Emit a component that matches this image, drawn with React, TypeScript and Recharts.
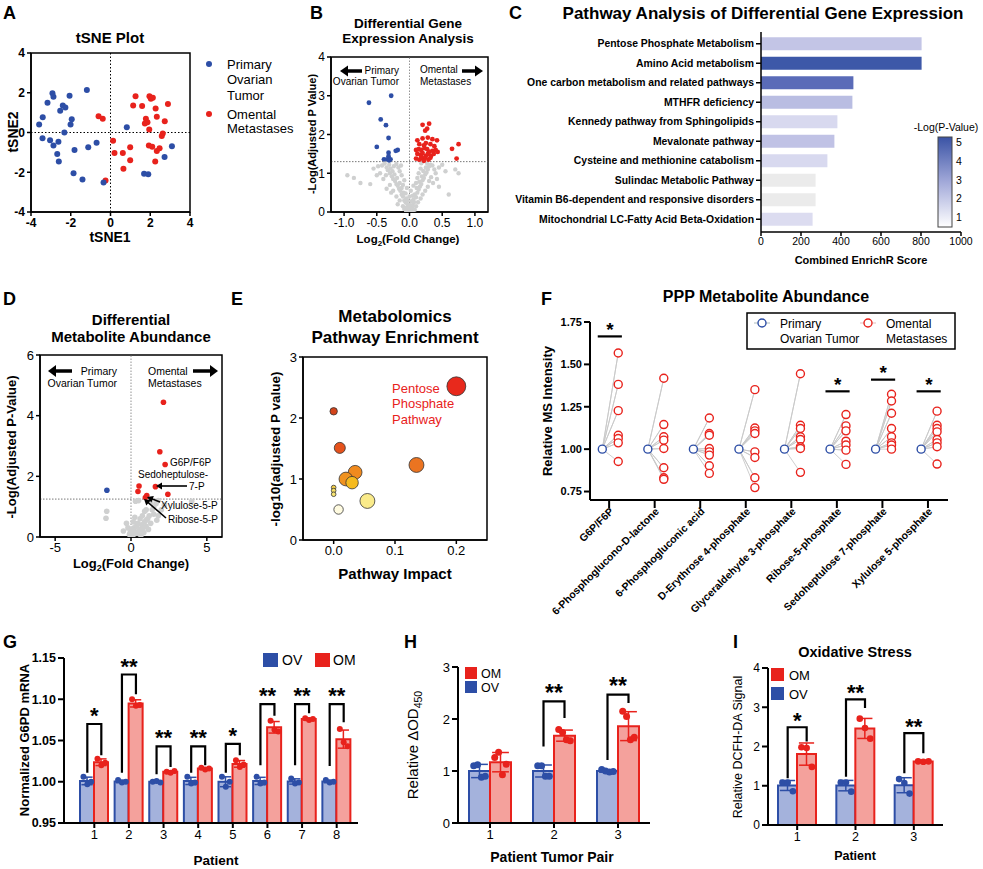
import React from 'react';
import {
  ScatterChart, Scatter, XAxis, YAxis, ZAxis, ReferenceLine, ReferenceArea,
  BarChart, Bar, Cell, ComposedChart, ErrorBar,
} from 'recharts';

const FONT = 'Arial, "Liberation Sans", Helvetica, sans-serif';
const BLUE = '#2d4ea6';
const RED = '#e8221c';
const GRAY = '#cfd0d0';
const BLUE_FILL = '#a4b2dc';
const RED_FILL = '#f4a19c';

// ---------- A: tSNE ----------
const tsneOvarian = [[-2.92,1.97],[-2.87,1.80],[-3.17,1.50],[-1.19,2.14],[-2.06,1.85],[-2.40,1.36],[-2.27,1.26],[-2.53,1.09],[-3.41,0.77],[-1.95,0.67],[-2.01,0.40],[-3.59,0.40],[-2.32,0.0],[-3.42,-0.29],[-3.04,-0.39],[-2.87,-0.66],[-2.62,-0.47],[-2.68,-1.08],[-2.60,-1.46],[-1.81,-0.88],[-1.12,-0.74],[-0.70,-0.51],[-1.86,-2.05],[-1.41,-2.36],[0.82,0.27],[3.09,-0.69],[2.72,-1.23],[1.69,-2.07],[1.90,-2.10]];
const tsneOmental = [[-0.60,0.82],[-0.39,0.69],[-0.25,-2.41],[0.13,-0.42],[0.20,-1.03],[0.62,-1.03],[0.65,-1.82],[0.99,-0.74],[0.99,-1.40],[1.26,1.82],[1.14,1.36],[1.59,1.33],[1.96,1.82],[2.03,1.70],[2.13,1.75],[2.27,1.21],[2.89,1.43],[1.78,0.69],[1.86,0.51],[1.73,0.45],[2.33,0.79],[2.73,0.57],[1.95,0.15],[2.63,-0.05],[2.58,-0.17],[1.93,-0.66],[2.10,-0.72],[2.33,-0.93],[2.47,-0.79],[2.25,-1.46]];
const tsneOvarianTop = [[-0.35,-2.51]];
const tsneTicks = [-4,-2,0,2,4];

// ---------- B: differential gene expression ----------
const degOvarian = [[-0.62,2.82],[-0.28,3.0],[-0.36,2.24],[-0.44,2.39],[-0.32,1.91],[-0.5,1.68],[-0.32,1.53],[-0.18,1.6],[-0.21,1.58],[-0.32,1.44],[-0.39,1.36],[-0.34,1.36],[-0.29,1.36],[-0.31,1.33]];
const degOmental = [[0.2,2.25],[0.3,2.28],[0.27,2.15],[0.24,2.1],[0.12,1.85],[0.2,1.9],[0.28,1.92],[0.35,1.88],[0.42,1.85],[0.15,1.75],[0.22,1.72],[0.25,1.78],[0.32,1.75],[0.38,1.7],[0.1,1.6],[0.14,1.62],[0.18,1.6],[0.23,1.65],[0.27,1.62],[0.3,1.55],[0.35,1.58],[0.4,1.6],[0.12,1.5],[0.17,1.48],[0.2,1.52],[0.25,1.45],[0.28,1.5],[0.33,1.45],[0.37,1.5],[0.43,1.55],[0.1,1.38],[0.15,1.35],[0.2,1.38],[0.24,1.4],[0.29,1.35],[0.32,1.4],[0.22,1.32],[0.18,1.42],[0.65,1.63],[0.75,1.75],[0.72,1.38]];
const degOther = [[-0.02,0.05],[-0.04,0.12],[-0.03,0.2],[-0.06,0.25],[-0.08,0.3],[-0.05,0.35],[-0.1,0.4],[-0.12,0.45],[-0.09,0.5],[-0.14,0.55],[-0.16,0.6],[-0.12,0.62],[-0.18,0.68],[-0.2,0.72],[-0.15,0.75],[-0.22,0.8],[-0.25,0.85],[-0.19,0.88],[-0.27,0.92],[-0.23,0.97],[-0.3,1.0],[-0.26,1.05],[-0.33,1.08],[-0.29,1.12],[-0.35,1.15],[-0.24,1.18],[-0.31,1.22],[-0.38,1.25],[-0.2,1.24],[-0.42,1.2],[-0.36,0.95],[-0.4,0.85],[-0.3,0.7],[-0.25,0.55],[-0.2,0.4],[-0.15,0.3],[-0.1,0.15],[-0.18,0.2],[-0.28,0.5],[-0.35,0.6],[-0.45,1.0],[-0.5,0.95],[-0.6,0.72],[-0.75,0.75],[-0.85,0.88],[-0.95,0.95],[-0.55,1.12],[-0.48,1.18],[0.02,0.05],[0.04,0.1],[0.05,0.18],[0.07,0.25],[0.06,0.32],[0.1,0.38],[0.08,0.45],[0.12,0.5],[0.14,0.58],[0.11,0.62],[0.16,0.66],[0.18,0.72],[0.15,0.78],[0.2,0.82],[0.22,0.88],[0.19,0.92],[0.24,0.97],[0.26,1.02],[0.21,1.06],[0.28,1.1],[0.25,1.15],[0.3,1.18],[0.32,1.22],[0.27,1.25],[0.35,1.2],[0.38,1.1],[0.4,1.0],[0.33,0.9],[0.3,0.8],[0.28,0.65],[0.24,0.55],[0.2,0.45],[0.17,0.35],[0.13,0.25],[0.1,0.15],[0.45,1.15],[0.5,1.22],[0.45,0.65],[0.6,0.45],[0.7,1.1],[0.75,1.0],[0.42,0.85],[0.36,0.75],[0.55,1.05],[0,0.02],[-0.01,0.08],[0.01,0.12],[0.0,0.18],[-0.05,0.02],[0.05,0.0],[-0.08,0.08],[0.08,0.06],[0.03,0.28],[-0.03,0.3],[0.0,0.4],[0.05,0.42],[-0.06,0.48],[0.02,0.55],[-0.04,0.62],[0.06,0.68],[-0.1,0.7],[0.1,0.75],[-0.08,0.82],[0.12,0.88],[-0.12,0.95],[0.14,1.0],[-0.15,1.05],[0.17,1.12],[-0.17,1.15],[0.18,1.26],[-0.13,1.2]];
const degXTicks = [-1,-0.5,0,0.5,1];
const degYTicks = [0,1,2,3,4];

// ---------- C: pathway analysis ----------
const pathways = ['Pentose Phosphate Metabolism','Amino Acid metabolism','One carbon metabolism and related pathways','MTHFR deficiency','Kennedy pathway from Sphingolipids','Mevalonate pathway','Cysteine and methionine catabolism','Sulindac Metabolic Pathway','Vitamin B6-dependent and responsive disorders','Mitochondrial LC-Fatty Acid Beta-Oxidation'];
const enrichScore = [803, 803, 462, 457, 382, 367, 332, 273, 273, 258];
const pathwayNegLogP = [2.0, 5.1, 4.3, 2.3, 1.4, 2.1, 1.4, 0.8, 0.8, 1.3];
const enrichTicks = [0,200,400,600,800,1000];
const colorbarTicks = [5,4,3,2,1];

// ---------- D: differential metabolites ----------
const metabOmental = [[2.14,4.44],[1.90,2.81],[2.25,2.39],[1.61,1.66],[0.53,1.68],[0.46,1.50],[2.43,1.41],[1.04,1.37],[0.95,1.30]];
const metabOvarian = [[-1.59,1.54]];
const metabOther = [[0,0.02],[0.1,0.05],[0.2,0.1],[-0.1,0.08],[0.3,0.15],[0.4,0.12],[0.5,0.2],[0.6,0.25],[0.2,0.3],[0.35,0.35],[0.7,0.4],[0.8,0.3],[0.9,0.5],[1.0,0.55],[1.1,0.6],[1.2,0.7],[1.3,0.45],[0.6,0.6],[0.75,0.7],[1.4,0.9],[1.5,1.0],[1.65,1.1],[1.8,1.2],[1.3,1.15],[0.5,1.2],[0.3,1.18],[1.0,0.9],[0.9,0.85],[-0.2,0.3],[-0.3,0.45],[0.15,0.5],[1.5,0.75],[1.7,0.55],[2.0,0.9],[-1.6,0.85],[-1.65,0.62],[4.0,1.18],[0.45,0.45],[0.25,0.65],[1.15,0.25],[0.85,0.15],[1.8,0.7],[2.2,1.05],[-0.5,0.2],[0.05,0.25],[-0.05,0.15],[0.65,0.05],[1.0,0.35]];

// ---------- E: metabolomics pathway enrichment ----------
const pathImpact = [0.2, 0, 0.01, 0.135, 0.035, 0.02, 0.03, 0.055, 0, 0, 0, 0.008];
const pathEnrichNegLogP = [2.52, 2.11, 1.51, 1.23, 1.11, 1.0, 0.94, 0.64, 0.86, 0.81, 0.75, 0.5];
const pathHits = [10, 1, 3, 6, 5, 5, 4, 6, 0, 0, 0, 2];

// ---------- F: PPP metabolites ----------
const pppMetabolites = ['G6P/F6P','6-Phosphoglucono-D-lactone','6-Phosphogluconic acid','D-Erythrose 4-phosphate','Glyceraldehyde 3-phosphate','Ribose-5-phosphate','Sedoheptulose 7-phosphate','Xylulose 5-phosphate'];
const pppOvarian = [1, 1, 1, 1, 1, 1, 1, 1];
const pppOmental = [
  [1.567,1.382,1.227,1.082,1.063,1.037,0.927],
  [1.418,1.145,1.073,1.053,1.004,0.890,0.831,0.822],
  [1.184,1.092,1.082,1.004,0.984,0.965,0.902,0.857],
  [1.351,1.125,1.108,1.092,0.984,0.951,0.831,0.773],
  [1.445,1.141,1.122,1.073,1.057,1.014,1.004,0.863],
  [1.204,1.137,1.108,1.047,1.024,0.994,0.910],
  [1.324,1.284,1.212,1.122,1.073,1.037,1.024,1.0],
  [1.224,1.141,1.122,1.102,1.057,1.037,1.014,0.912],
];
const pppSigBar = [1.665, null, null, null, null, 1.341, 1.41, 1.341];
const pppYTicks = [0.75,1.0,1.25,1.5,1.75];

// ---------- G: G6PD mRNA ----------
const g6pdPatients = ['1','2','3','4','5','6','7','8'];
const g6pdOV = [[1.006,0.997,1.0],[1.002,0.999,1.0],[1.0,1.001,0.999],[1.006,0.998,0.999],[1.006,0.994,1.0],[1.006,0.998,0.999],[1.004,0.998,0.999],[1.002,0.999,1.0]];
const g6pdOM = [[1.028,1.02,1.023],[1.1,1.092,1.093],[1.012,1.011,1.013],[1.017,1.015,1.016],[1.026,1.018,1.021],[1.074,1.063,1.061],[1.077,1.075,1.076],[1.064,1.048,1.043]];
const g6pdBracketTop = [1.07,1.13,1.043,1.043,1.046,1.094,1.094,1.094];
const g6pdBracketOV = [1.011,1.011,1.009,1.011,1.011,1.02,1.02,1.019];
const g6pdBracketOM = [1.032,1.106,1.018,1.02,1.032,1.08,1.083,1.072];
const g6pdSig = ['*','**','**','**','*','**','**','**'];
const g6pdTicks = [0.95,1.0,1.05,1.1,1.15];

// ---------- H: OD450 ----------
const odPairs = ['1','2','3'];
const odOV = [[1.10,1.12,0.88,0.90],[1.10,1.10,0.90,0.90],[1.03,1.00,0.98,0.99]];
const odOM = [[1.26,1.36,0.93,1.13],[1.80,1.74,1.60,1.58],[2.15,2.05,1.60,1.65]];
const odBracketTop = [null, 2.34, 2.47];
const odBracketOV = [null, 1.47, 1.21];
const odBracketOM = [null, 2.02, 2.31];
const odSig = ['', '**', '**'];
const odTicks = [0,1,2,3];

// ---------- I: DCFH-DA ----------
const dcfhPatients = ['1','2','3'];
const dcfhOV = [[1.08,1.08,0.86],[1.08,1.08,0.85],[1.17,1.07,0.80]];
const dcfhOM = [[1.98,1.96,1.48],[2.71,2.47,2.20],[1.62,1.61,1.62]];
const dcfhBracketTop = [2.49, 3.2, 2.34];
const dcfhBracketOV = [1.19, 1.23, 1.32];
const dcfhBracketOM = [2.13, 2.98, 1.83];
const dcfhSig = ['*','**','**'];
const dcfhTicks = [0,1,2,3,4];

// ---------- helpers ----------
const AX = { stroke: '#000', strokeWidth: 1.5 };
const AX2 = { stroke: '#000', strokeWidth: 2 };
const tk = (s: number, w: number = 400) => ({ fill: '#000', fontSize: s, fontWeight: w, fontFamily: FONT });
const pts = (a: number[][]) => a.map(([x, y]) => ({ x, y }));
const mean = (a: number[]) => a.reduce((s, v) => s + v, 0) / a.length;
const sd = (a: number[]) => { const m = mean(a); return Math.sqrt(a.reduce((s, v) => s + (v - m) ** 2, 0) / (a.length - 1)); };
const dot = (r: number, fill: string) => (p: any) => <circle cx={p.cx} cy={p.cy} r={r} fill={fill} />;
const ring = (r: number, stroke: string) => (p: any) => <circle cx={p.cx} cy={p.cy} r={r} fill="#fff" stroke={stroke} strokeWidth={1.4} />;
const none = () => <g />;
const starShape = (gap: number, fs: number) => (p: any) => (
  <text x={p.cx} y={p.cy - gap + fs * 0.5} textAnchor="middle" fontSize={fs} fontWeight={700} fontFamily={FONT} fill="#000">{p.payload.s}</text>
);

function interp(stops: [number, string][], v: number) {
  if (v <= stops[0][0]) return stops[0][1];
  const hex = (c: string) => [1, 3, 5].map(k => parseInt(c.slice(k, k + 2), 16));
  for (let i = 1; i < stops.length; i++) {
    if (v <= stops[i][0]) {
      const [a, ca] = stops[i - 1];
      const [b, cb] = stops[i];
      const t = (v - a) / (b - a);
      const A = hex(ca), B = hex(cb);
      return 'rgb(' + A.map((x, j) => Math.round(x + (B[j] - x) * t)).join(',') + ')';
    }
  }
  return stops[stops.length - 1][1];
}
const pathColor = (v: number) => interp([[0.8, '#ebebeb'], [1.3, '#dcdcf0'], [2.0, '#c3c5e6'], [2.3, '#b9bde2'], [4.3, '#5a6bb8'], [5.1, '#3d58a8']], v);
const heatColor = (v: number) => interp([[0.5, '#fffbe0'], [0.64, '#faeb8a'], [0.8, '#f7e26a'], [0.94, '#f5ba1e'], [1.0, '#f0921f'], [1.11, '#f08a1e'], [1.23, '#eb7421'], [1.5, '#e5521c'], [2.11, '#d3441a'], [2.52, '#e8291c']], v);

function Abs({ r, yw, xh, pad, children }: any) {
  const p = { l: 4, t: 12, r: 16, b: 6, ...(pad || {}) };
  const w = r.x1 - r.x0 + yw + p.l + p.r;
  const h = r.y1 - r.y0 + xh + p.t + p.b;
  return (
    <div style={{ position: 'absolute', left: r.x0 - yw - p.l, top: r.y0 - p.t, width: w, height: h }}>
      {children(w, h, { left: p.l, top: p.t, right: p.r, bottom: p.b })}
    </div>
  );
}

function T({ x, y, s = 12, w = 400, a = 'start', c = '#000', rot, children }: any) {
  return (
    <text x={x} y={y} fontSize={s} fontWeight={w} textAnchor={a} fill={c} fontFamily={FONT}
      transform={rot ? `rotate(${rot} ${x} ${y})` : undefined}>{children}</text>
  );
}

function Arrow({ x1, y1, x2, y2, w = 2, head = 6, hw = 4 }: any) {
  const dx = x2 - x1, dy = y2 - y1, L = Math.hypot(dx, dy);
  const ux = dx / L, uy = dy / L;
  const bx = x2 - ux * head, by = y2 - uy * head;
  const px = -uy * hw, py = ux * hw;
  return (
    <g>
      <line x1={x1} y1={y1} x2={bx + ux} y2={by + uy} stroke="#000" strokeWidth={w} />
      <polygon points={`${x2},${y2} ${bx + px},${by + py} ${bx - px},${by - py}`} fill="#000" />
    </g>
  );
}

// ---------- panels ----------
function PanelA() {
  const r = { x0: 31, y0: 53, x1: 190, y1: 212 };
  return (
    <Abs r={r} yw={26} xh={24}>
      {(w: number, h: number, m: any) => (
        <ScatterChart width={w} height={h} margin={m}>
          <XAxis type="number" dataKey="x" domain={[-4, 4]} ticks={tsneTicks} height={24} axisLine={AX} tickLine={AX} tickSize={4} tick={tk(12, 700)} allowDataOverflow />
          <YAxis type="number" dataKey="y" domain={[-4, 4]} ticks={tsneTicks} width={26} axisLine={AX} tickLine={AX} tickSize={4} tick={tk(12, 700)} allowDataOverflow />
          <ReferenceArea x1={-4} x2={4} y1={-4} y2={4} fill="none" fillOpacity={0} stroke="#000" strokeWidth={1.5} ifOverflow="visible" />
          <ReferenceLine x={0} stroke="#000" strokeWidth={1} strokeDasharray="1.5 2" />
          <ReferenceLine y={0} stroke="#000" strokeWidth={1} strokeDasharray="1.5 2" />
          <Scatter data={pts(tsneOvarian)} shape={dot(3, BLUE)} isAnimationActive={false} />
          <Scatter data={pts(tsneOmental)} shape={dot(3, RED)} isAnimationActive={false} />
          <Scatter data={pts(tsneOvarianTop)} shape={dot(3, BLUE)} isAnimationActive={false} />
        </ScatterChart>
      )}
    </Abs>
  );
}

function PanelB() {
  const r = { x0: 331, y0: 57, x1: 488, y1: 212 };
  return (
    <Abs r={r} yw={20} xh={24}>
      {(w: number, h: number, m: any) => (
        <ScatterChart width={w} height={h} margin={m}>
          <XAxis type="number" dataKey="x" domain={[-1.2, 1.2]} ticks={degXTicks} tickFormatter={(v: number) => v.toFixed(1)} height={24} axisLine={AX} tickLine={AX} tickSize={4} tick={tk(12)} allowDataOverflow />
          <YAxis type="number" dataKey="y" domain={[0, 4]} ticks={degYTicks} width={20} axisLine={AX} tickLine={AX} tickSize={4} tick={tk(12)} allowDataOverflow />
          <YAxis yAxisId="r" orientation="right" type="number" domain={[0, 4]} ticks={degYTicks} width={0} tick={false} axisLine={AX} tickLine={AX} tickSize={4} allowDataOverflow />
          <ReferenceArea x1={-1.2} x2={1.2} y1={0} y2={4} fill="none" fillOpacity={0} stroke="#000" strokeWidth={1.5} ifOverflow="visible" />
          <ReferenceLine x={0} stroke="#777" strokeWidth={0.8} strokeDasharray="1.5 1.5" />
          <ReferenceLine y={1.3} stroke="#555" strokeWidth={0.8} strokeDasharray="1.5 1.5" />
          <Scatter data={pts(degOther)} shape={dot(2.2, GRAY)} isAnimationActive={false} />
          <Scatter data={pts(degOvarian)} shape={dot(2.4, BLUE)} isAnimationActive={false} />
          <Scatter data={pts(degOmental)} shape={dot(2.4, RED)} isAnimationActive={false} />
        </ScatterChart>
      )}
    </Abs>
  );
}

function PanelC() {
  const r = { x0: 761, y0: 32, x1: 961, y1: 232 };
  const data = pathways.map((name, i) => ({ name, score: enrichScore[i], p: pathwayNegLogP[i] }));
  const CatTick = (p: any) => (
    <text x={p.x} y={p.y} dy={3.7} textAnchor="end" fontSize={10.4} fontWeight={700} fontFamily={FONT} fill="#000">{p.payload.value}</text>
  );
  return (
    <Abs r={r} yw={250} xh={22} pad={{ t: 4, r: 20 }}>
      {(w: number, h: number, m: any) => (
        <BarChart layout="vertical" width={w} height={h} margin={m} data={data} barCategoryGap="17%">
          <XAxis type="number" domain={[0, 1000]} ticks={enrichTicks} height={22} axisLine={AX} tickLine={AX} tickSize={4} tick={tk(10.5)} allowDataOverflow />
          <YAxis type="category" dataKey="name" width={250} axisLine={AX} tickLine={AX} tickSize={5} tick={CatTick} interval={0} padding={{ top: 2, bottom: 3 }} />
          <Bar dataKey="score" isAnimationActive={false}>
            {data.map((d, i) => <Cell key={i} fill={pathColor(d.p)} />)}
          </Bar>
        </BarChart>
      )}
    </Abs>
  );
}

function PanelD() {
  const r = { x0: 40, y0: 355, x1: 222, y1: 537 };
  return (
    <Abs r={r} yw={24} xh={22}>
      {(w: number, h: number, m: any) => (
        <ScatterChart width={w} height={h} margin={m}>
          <XAxis type="number" dataKey="x" domain={[-6, 6]} ticks={[-5, 0, 5]} height={22} axisLine={AX} tickLine={AX} tickSize={4} tick={tk(13)} allowDataOverflow />
          <YAxis type="number" dataKey="y" domain={[0, 6]} ticks={[0, 2, 4, 6]} width={24} axisLine={AX} tickLine={AX} tickSize={4} tick={tk(13)} allowDataOverflow />
          <YAxis yAxisId="r" orientation="right" type="number" domain={[0, 6]} ticks={[0, 2, 4, 6]} width={0} tick={false} axisLine={AX} tickLine={AX} tickSize={4} allowDataOverflow />
          <ReferenceArea x1={-6} x2={6} y1={0} y2={6} fill="none" fillOpacity={0} stroke="#000" strokeWidth={1.5} ifOverflow="visible" />
          <ReferenceLine x={0} stroke="#777" strokeWidth={0.8} strokeDasharray="1.5 1.5" />
          <ReferenceLine y={1.25} stroke="#555" strokeWidth={0.8} strokeDasharray="1.5 1.5" />
          <Scatter data={pts(metabOther)} shape={dot(2.8, GRAY)} isAnimationActive={false} />
          <Scatter data={pts(metabOvarian)} shape={dot(2.8, BLUE)} isAnimationActive={false} />
          <Scatter data={pts(metabOmental)} shape={dot(2.8, RED)} isAnimationActive={false} />
        </ScatterChart>
      )}
    </Abs>
  );
}

function PanelE() {
  const r = { x0: 303, y0: 357, x1: 487, y1: 540 };
  const data = pathImpact.map((x, i) => ({ x, y: pathEnrichNegLogP[i], z: pathHits[i] }));
  return (
    <Abs r={r} yw={24} xh={22}>
      {(w: number, h: number, m: any) => (
        <ScatterChart width={w} height={h} margin={m}>
          <XAxis type="number" dataKey="x" domain={[-0.05, 0.25]} ticks={[0, 0.1, 0.2]} tickFormatter={(v: number) => v.toFixed(1)} height={22} axisLine={AX} tickLine={AX} tickSize={4} tick={tk(13)} allowDataOverflow />
          <YAxis type="number" dataKey="y" domain={[0, 3]} ticks={[0, 1, 2, 3]} width={24} axisLine={AX} tickLine={AX} tickSize={4} tick={tk(13)} allowDataOverflow />
          <YAxis yAxisId="r" orientation="right" type="number" domain={[0, 3]} ticks={[0, 1, 2, 3]} width={0} tick={false} axisLine={AX} tickLine={AX} tickSize={4} allowDataOverflow />
          <ZAxis type="number" dataKey="z" domain={[0, 10]} range={[17, 280]} />
          <ReferenceArea x1={-0.05} x2={0.25} y1={0} y2={3} fill="none" fillOpacity={0} stroke="#000" strokeWidth={1.5} ifOverflow="visible" />
          <Scatter data={data} isAnimationActive={false}>
            {data.map((d, i) => <Cell key={i} fill={heatColor(d.y)} stroke="#333" strokeWidth={0.8} />)}
          </Scatter>
        </ScatterChart>
      )}
    </Abs>
  );
}

function PanelF() {
  const r = { x0: 590, y0: 322, x1: 948, y1: 500 };
  const hubOff = -0.15, spokeOff = 0.2;
  const hubs = pppOvarian.map((v, i) => ({ x: i + hubOff, y: v }));
  const spokes = pppOmental.flatMap((reps, i) => reps.map(v => ({ x: i + spokeOff, y: v })));
  const sig = pppSigBar.map((v, i) => v == null ? null : { i, v }).filter(Boolean) as any[];
  const RotTick = (p: any) => {
    const x = p.x + 5, y = p.y + 2;
    return (
      <text x={x} y={y} transform={`rotate(-45 ${x} ${y})`} textAnchor="end" fontSize={10.5} fontWeight={700} fontFamily={FONT} fill="#000">
        {pppMetabolites[p.payload.value]}
      </text>
    );
  };
  return (
    <Abs r={r} yw={42} xh={110} pad={{ r: 20 }}>
      {(w: number, h: number, m: any) => (
        <ScatterChart width={w} height={h} margin={m}>
          <XAxis type="number" dataKey="x" domain={[-0.42, 7.44]} ticks={[0, 1, 2, 3, 4, 5, 6, 7]} height={110} axisLine={AX2} tickLine={AX2} tickSize={8} tick={RotTick} interval={0} allowDataOverflow />
          <YAxis type="number" dataKey="y" domain={[0.7, 1.75]} ticks={pppYTicks} tickFormatter={(v: number) => v.toFixed(2)} width={42} axisLine={AX2} tickLine={AX2} tickSize={6} tick={tk(11, 700)} interval={0} allowDataOverflow />
          {pppOmental.map((reps, i) => (
            <Scatter key={'l' + i} data={reps.flatMap(v => [{ x: i + hubOff, y: pppOvarian[i] }, { x: i + spokeOff, y: v }])}
              line={{ stroke: '#c8c8c8', strokeWidth: 0.9 }} shape={none} isAnimationActive={false} />
          ))}
          <Scatter data={hubs} shape={ring(4, BLUE)} isAnimationActive={false} />
          <Scatter data={spokes} shape={ring(4, RED)} isAnimationActive={false} />
          {sig.map((s: any) => (
            <Scatter key={'s' + s.i} data={[{ x: s.i - 0.25, y: s.v }, { x: s.i + 0.28, y: s.v }]} line={{ stroke: '#000', strokeWidth: 2.2 }} shape={none} isAnimationActive={false} />
          ))}
          <Scatter data={sig.map((s: any) => ({ x: s.i + 0.02, y: s.v, s: '*' }))} shape={starShape(10, 19)} isAnimationActive={false} />
        </ScatterChart>
      )}
    </Abs>
  );
}

function GroupedBars(props: any) {
  const { r, cats, ov, om, domain, ticks, fmt, padL = 0, padR = 0, barSize, brTop, brOV, brOM, sig, yTick, xTick, dotR, yw, xh, starGap, starFs } = props;
  const n = cats.length;
  const band = (r.x1 - r.x0 - padL - padR) / n;
  const off = barSize / 2 / band;
  const data = cats.map((c: string, i: number) => ({ name: c, ov: mean(ov[i]), om: mean(om[i]), ovE: sd(ov[i]), omE: sd(om[i]) }));
  const spread = (reps: number[], cx: number) => reps.map((v, k) => ({ x: cx + (reps.length > 1 ? k / (reps.length - 1) - 0.5 : 0) * 0.55 * barSize / band, y: v }));
  const ovDots = ov.flatMap((reps: number[], i: number) => spread(reps, i + 1 - off));
  const omDots = om.flatMap((reps: number[], i: number) => spread(reps, i + 1 + off));
  const idx = cats.map((_: any, i: number) => i).filter((i: number) => brTop[i] != null);
  const stars = idx.map((i: number) => ({ x: i + 1, y: brTop[i], s: sig[i] }));
  return (
    <Abs r={r} yw={yw} xh={xh}>
      {(w: number, h: number, m: any) => (
        <ComposedChart width={w} height={h} margin={m} data={data} barGap={0}>
          <XAxis xAxisId="c" dataKey="name" type="category" padding={{ left: padL, right: padR }} height={xh} axisLine={AX2} tickLine={AX2} tickSize={5} tick={xTick} interval={0} />
          <XAxis xAxisId="n" dataKey="x" type="number" domain={[0.5, n + 0.5]} padding={{ left: padL, right: padR }} hide allowDataOverflow />
          <YAxis yAxisId="y" type="number" domain={domain} ticks={ticks} tickFormatter={fmt} width={yw} axisLine={AX2} tickLine={AX2} tickSize={6} tick={yTick} interval={0} allowDataOverflow />
          <Bar xAxisId="c" yAxisId="y" dataKey="ov" barSize={barSize} fill={BLUE_FILL} stroke={BLUE} strokeWidth={2} isAnimationActive={false}>
            <ErrorBar dataKey="ovE" width={barSize * 0.4} stroke={BLUE} strokeWidth={1.5} />
          </Bar>
          <Bar xAxisId="c" yAxisId="y" dataKey="om" barSize={barSize} fill={RED_FILL} stroke={RED} strokeWidth={2} isAnimationActive={false}>
            <ErrorBar dataKey="omE" width={barSize * 0.4} stroke={RED} strokeWidth={1.5} />
          </Bar>
          <Scatter xAxisId="n" yAxisId="y" data={ovDots} dataKey="y" shape={dot(dotR, BLUE)} isAnimationActive={false} />
          <Scatter xAxisId="n" yAxisId="y" data={omDots} dataKey="y" shape={dot(dotR, RED)} isAnimationActive={false} />
          {idx.map((i: number) => (
            <Scatter key={'b' + i} xAxisId="n" yAxisId="y" dataKey="y"
              data={[{ x: i + 1 - off, y: brOV[i] }, { x: i + 1 - off, y: brTop[i] }, { x: i + 1 + off, y: brTop[i] }, { x: i + 1 + off, y: brOM[i] }]}
              line={{ stroke: '#000', strokeWidth: 2.2 }} shape={none} isAnimationActive={false} />
          ))}
          <Scatter xAxisId="n" yAxisId="y" data={stars} dataKey="y" shape={starShape(starGap, starFs)} isAnimationActive={false} />
        </ComposedChart>
      )}
    </Abs>
  );
}

function Overlay() {
  const L = (x: number, y: number, t: string) => <T x={x} y={y} s={18} w={700}>{t}</T>;
  return (
    <svg width={983} height={869} style={{ position: 'absolute', left: 0, top: 0, pointerEvents: 'none' }}>
      <defs>
        <linearGradient id="cbar" x1="0" y1="0" x2="0" y2="1">
          <stop offset="0" stopColor="#3a53a5" />
          <stop offset="0.5" stopColor="#a2a9d9" />
          <stop offset="1" stopColor="#ffffff" />
        </linearGradient>
      </defs>
      {/* panel letters */}
      {L(3, 19, 'A')}{L(310, 19, 'B')}{L(509, 19, 'C')}
      {L(3, 305, 'D')}{L(231, 305, 'E')}{L(541, 305, 'F')}
      {L(3, 648, 'G')}{L(404, 648, 'H')}{L(733, 648, 'I')}

      {/* A */}
      <T x={110} y={43} s={15} w={700} a="middle">tSNE Plot</T>
      <T x={110} y={242} s={14} w={700} a="middle">tSNE1</T>
      <T x={18} y={132} s={14} w={700} a="middle" rot={-90}>tSNE2</T>
      <circle cx={209} cy={64} r={3} fill={BLUE} />
      <T x={227} y={68.5} s={13}>Primary</T>
      <T x={227} y={84} s={13}>Ovarian</T>
      <T x={227} y={99.5} s={13}>Tumor</T>
      <circle cx={209} cy={114} r={3} fill={RED} />
      <T x={227} y={118.5} s={13}>Omental</T>
      <T x={227} y={133} s={13}>Metastases</T>

      {/* B */}
      <T x={408} y={27.5} s={13.5} w={700} a="middle">Differential Gene</T>
      <T x={408} y={43} s={13.5} w={700} a="middle">Expression Analysis</T>
      <T x={316} y={134} s={11} w={700} a="middle" rot={-90}>-Log(Adjusted P Value)</T>
      <text x={408} y={243} fontSize={11.5} fontWeight={700} textAnchor="middle" fontFamily={FONT}>Log<tspan dy={3} fontSize={8}>2</tspan><tspan dy={-3}>(Fold Change)</tspan></text>
      <T x={399} y={74} s={10} a="end">Primary</T>
      <T x={399} y={85} s={10} a="end">Ovarian Tumor</T>
      <T x={420} y={73} s={10}>Omental</T>
      <T x={420} y={85} s={10}>Metastases</T>
      <Arrow x1={362} y1={71} x2={340} y2={71} w={3.5} head={8} hw={5.5} />
      <Arrow x1={462} y1={71} x2={483} y2={71} w={3.5} head={8} hw={5.5} />

      {/* C */}
      <T x={763} y={19} s={17} w={700} a="middle">Pathway Analysis of Differential Gene Expression</T>
      <T x={861} y={264} s={11} w={700} a="middle">Combined EnrichR Score</T>
      <T x={946} y={131} s={10.5} a="middle">-Log(P-Value)</T>
      <rect x={938} y={137} width={14} height={90} fill="url(#cbar)" stroke="#444" strokeWidth={1} />
      {colorbarTicks.map((v, i) => (
        <T key={v} x={956} y={146 + i * 18.8} s={10.5}>{String(v)}</T>
      ))}

      {/* D */}
      <T x={131} y={325} s={15} w={700} a="middle">Differential</T>
      <T x={131} y={342} s={15} w={700} a="middle">Metabolite Abundance</T>
      <T x={16} y={447} s={13} w={700} a="middle" rot={-90}>-Log(Adjusted P-Value)</T>
      <text x={131} y={568} fontSize={13} fontWeight={700} textAnchor="middle" fontFamily={FONT}>Log<tspan dy={3} fontSize={9}>2</tspan><tspan dy={-3}>(Fold Change)</tspan></text>
      <T x={117} y={375} s={10.5} a="end">Primary</T>
      <T x={117} y={387} s={10.5} a="end">Ovarian Tumor</T>
      <T x={148} y={375} s={10.5}>Omental</T>
      <T x={148} y={387} s={10.5}>Metastases</T>
      <Arrow x1={72} y1={371} x2={48} y2={371} w={3.5} head={8} hw={6} />
      <Arrow x1={193} y1={371} x2={218} y2={371} w={3.5} head={8} hw={6} />
      <T x={170} y={466} s={10}>G6P/F6P</T>
      <T x={138} y={478} s={10}>Sedoheptulose-</T>
      <T x={189} y={490} s={10}>7-P</T>
      <T x={161} y={509} s={10}>Xylulose-5-P</T>
      <T x={168} y={523} s={10}>Ribose-5-P</T>
      <Arrow x1={187} y1={486} x2={156} y2={486} w={1.6} head={6} hw={3.5} />
      <Arrow x1={160} y1={502} x2={147} y2={497} w={1.6} head={6} hw={3.5} />
      <Arrow x1={166} y1={518} x2={144} y2={499} w={1.6} head={6} hw={3.5} />

      {/* E */}
      <T x={395} y={322} s={17} w={700} a="middle">Metabolomics</T>
      <T x={395} y={343} s={17} w={700} a="middle">Pathway Enrichment</T>
      <T x={280} y={449} s={13.5} w={700} a="middle" rot={-90}>-log10(adjusted P value)</T>
      <T x={395} y={579} s={15} w={700} a="middle">Pathway Impact</T>
      <T x={392} y={393} s={13} c={RED}>Pentose</T>
      <T x={392} y={408} s={13} c={RED}>Phosphate</T>
      <T x={392} y={424} s={13} c={RED}>Pathway</T>

      {/* F */}
      <T x={766} y={302} s={16} w={700} a="middle">PPP Metabolite Abundance</T>
      <T x={552} y={411} s={13} w={700} a="middle" rot={-90}>Relative MS Intensity</T>
      <rect x={747} y={313} width={208} height={36} fill="#fff" stroke="#000" strokeWidth={1.5} />
      <line x1={754} y1={323} x2={770} y2={323} stroke="#9aa" strokeWidth={0.8} />
      <circle cx={762} cy={323} r={4} fill="#fff" stroke={BLUE} strokeWidth={1.4} />
      <T x={780} y={328} s={12}>Primary</T>
      <T x={780} y={343} s={12}>Ovarian Tumor</T>
      <line x1={860} y1={323} x2={876} y2={323} stroke="#daa" strokeWidth={0.8} />
      <circle cx={868} cy={323} r={4} fill="#fff" stroke={RED} strokeWidth={1.4} />
      <T x={886} y={328} s={12}>Omental</T>
      <T x={886} y={343} s={12}>Metastases</T>

      {/* G */}
      <T x={29} y={740} s={13} w={700} a="middle" rot={-90}>Normalized G6PD mRNA</T>
      <T x={216} y={865} s={13.5} w={700} a="middle">Patient</T>
      <rect x={263} y={653} width={15} height={14} fill={BLUE} />
      <T x={282} y={665} s={14}>OV</T>
      <rect x={315} y={653} width={15} height={14} fill={RED} />
      <T x={333} y={665} s={14}>OM</T>

      {/* H */}
      <text x={418} y={745} fontSize={15} textAnchor="middle" fontFamily={FONT} transform="rotate(-90 418 745)">Relative ΔOD<tspan dy={4} fontSize={10.5}>450</tspan></text>
      <T x={552} y={862} s={14} w={700} a="middle">Patient Tumor Pair</T>
      <rect x={465} y={667} width={12} height={12} fill={RED} />
      <T x={481} y={678} s={12.5}>OM</T>
      <rect x={465} y={681} width={12} height={12} fill={BLUE} />
      <T x={481} y={692} s={12.5}>OV</T>

      {/* I */}
      <T x={855} y={657} s={14.5} w={700} a="middle">Oxidative Stress</T>
      <T x={742} y={747} s={12.5} a="middle" rot={-90}>Relative DCFH-DA Signal</T>
      <T x={855} y={860} s={12.5} w={700} a="middle">Patient</T>
      <rect x={771} y={668} width={13} height={13} fill={RED} />
      <T x={789} y={680} s={13}>OM</T>
      <rect x={771} y={687} width={13} height={13} fill={BLUE} />
      <T x={789} y={699} s={13}>OV</T>
    </svg>
  );
}

export default function App() {
  return (
    <div style={{ position: 'absolute', left: 0, top: 0, width: 983, height: 869, background: '#fff', fontFamily: FONT, overflow: 'hidden' }}>
      <PanelA />
      <PanelB />
      <PanelC />
      <PanelD />
      <PanelE />
      <PanelF />
      <GroupedBars r={{ x0: 64, y0: 658, x1: 358, y1: 823 }} cats={g6pdPatients} ov={g6pdOV} om={g6pdOM}
        domain={[0.95, 1.15]} ticks={g6pdTicks} fmt={(v: number) => v.toFixed(2)} padL={13} padR={4} barSize={14}
        brTop={g6pdBracketTop} brOV={g6pdBracketOV} brOM={g6pdBracketOM} sig={g6pdSig}
        yTick={tk(12.5, 700)} xTick={tk(13)} dotR={3} yw={38} xh={24} starGap={12} starFs={22} />
      <GroupedBars r={{ x0: 458, y0: 667, x1: 650, y1: 823 }} cats={odPairs} ov={odOV} om={odOM}
        domain={[0, 3]} ticks={odTicks} barSize={21}
        brTop={odBracketTop} brOV={odBracketOV} brOM={odBracketOM} sig={odSig}
        yTick={tk(13)} xTick={tk(13)} dotR={3.5} yw={22} xh={24} starGap={12} starFs={23} />
      <GroupedBars r={{ x0: 768, y0: 668, x1: 943, y1: 825 }} cats={dcfhPatients} ov={dcfhOV} om={dcfhOM}
        domain={[0, 4]} ticks={dcfhTicks} barSize={19}
        brTop={dcfhBracketTop} brOV={dcfhBracketOV} brOM={dcfhBracketOM} sig={dcfhSig}
        yTick={tk(12)} xTick={tk(12.5)} dotR={3.3} yw={22} xh={22} starGap={10} starFs={22} />
      <Overlay />
    </div>
  );
}
